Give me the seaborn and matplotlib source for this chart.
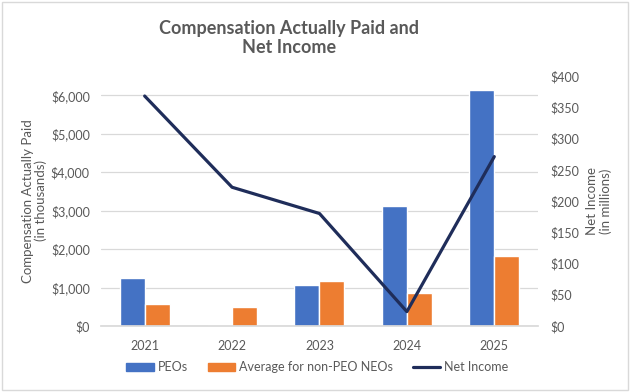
import matplotlib
matplotlib.use("Agg")
import matplotlib.pyplot as plt
import matplotlib.patches as mpatches
import matplotlib.lines as mlines
from matplotlib.ticker import FuncFormatter, MultipleLocator
import numpy as np
import pandas as pd
import seaborn as sns

# values
years = ["2021", "2022", "2023", "2024", "2025"]
peo_cap = [1255, 26, 1066, 3120, 6136]          # $ thousands
non_peo_cap = [572, 502, 1170, 866, 1828]       # $ thousands
net_income = [368, 222, 180, 23, 271]           # $ millions

series_names = ["PEOs", "Average for non-PEO NEOs"]
bar_colors = ["#4472C4", "#ED7D31"]
line_color = "#1F2D5A"
text_color = "#595959"
grid_color = "#D9D9D9"

sns.set_theme(style="white")
plt.rcParams["font.family"] = ["Lato", "DejaVu Sans"]

df = pd.DataFrame({
    "year": years * 2,
    "value": peo_cap + non_peo_cap,
    "series": [series_names[0]] * len(years) + [series_names[1]] * len(years),
})

fig = plt.figure(figsize=(6.31, 3.92), dpi=100)
ax = fig.add_axes([0.160, 0.1684, 0.6926, 0.6377])

sns.barplot(data=df, x="year", y="value", hue="series", palette=bar_colors,
            width=0.572, gap=0, saturation=1, ax=ax, legend=False)

ax.set_ylim(0, 6500)
ax.yaxis.set_major_locator(MultipleLocator(1000))
ax.yaxis.set_major_formatter(FuncFormatter(lambda v, p: f"${v:,.0f}"))
ax.grid(axis="y", color=grid_color, linewidth=0.9)
ax.set_axisbelow(True)
for s in ["top", "right", "left"]:
    ax.spines[s].set_visible(False)
ax.spines["bottom"].set_color(grid_color)
ax.tick_params(axis="y", length=0, colors=text_color, labelsize=9, pad=8)
ax.tick_params(axis="x", length=0, colors=text_color, labelsize=9, pad=10)
ax.set_xlabel("")
ax.set_ylabel("Compensation Actually Paid\n(in thousands)", color=text_color,
              fontsize=9.5, labelpad=3, linespacing=1.05)

ax2 = ax.twinx()
sns.lineplot(x=np.arange(len(years)), y=net_income, ax=ax2, color=line_color,
             linewidth=2.3)
ax2.set_ylim(0, 400)
ax2.yaxis.set_major_locator(MultipleLocator(50))
ax2.yaxis.set_major_formatter(FuncFormatter(lambda v, p: f"${v:,.0f}"))
for s in ["top", "right", "left", "bottom"]:
    ax2.spines[s].set_visible(False)
ax2.tick_params(axis="y", length=0, colors=text_color, labelsize=9, pad=9)
ax2.set_ylabel("Net Income\n(in millions)", color=text_color, fontsize=9.5,
               labelpad=5, linespacing=1.05)
ax2.grid(False)
ax.set_xlim(-0.5, len(years) - 0.5)

fig.text(0.458, 0.903, "Compensation Actually Paid and\nNet Income", ha="center",
         va="center", fontsize=13, fontweight="bold", color=text_color,
         linespacing=1.2)

handles = [mpatches.Patch(color=bar_colors[0], label=series_names[0]),
           mpatches.Patch(color=bar_colors[1], label=series_names[1]),
           mlines.Line2D([], [], color=line_color, linewidth=2.3, label="Net Income")]
leg = fig.legend(handles=handles, loc="center", bbox_to_anchor=(0.503, 0.063),
                 ncol=3, frameon=False, fontsize=9, handlelength=2.2,
                 handleheight=0.7, columnspacing=1.6, handletextpad=0.3)
for t in leg.get_texts():
    t.set_color(text_color)

fig.patches.append(mpatches.Rectangle((0.003, 0.004), 0.993, 0.991,
                                      transform=fig.transFigure, fill=False,
                                      edgecolor=grid_color, linewidth=1))

fig.savefig("out.png", dpi=100)
